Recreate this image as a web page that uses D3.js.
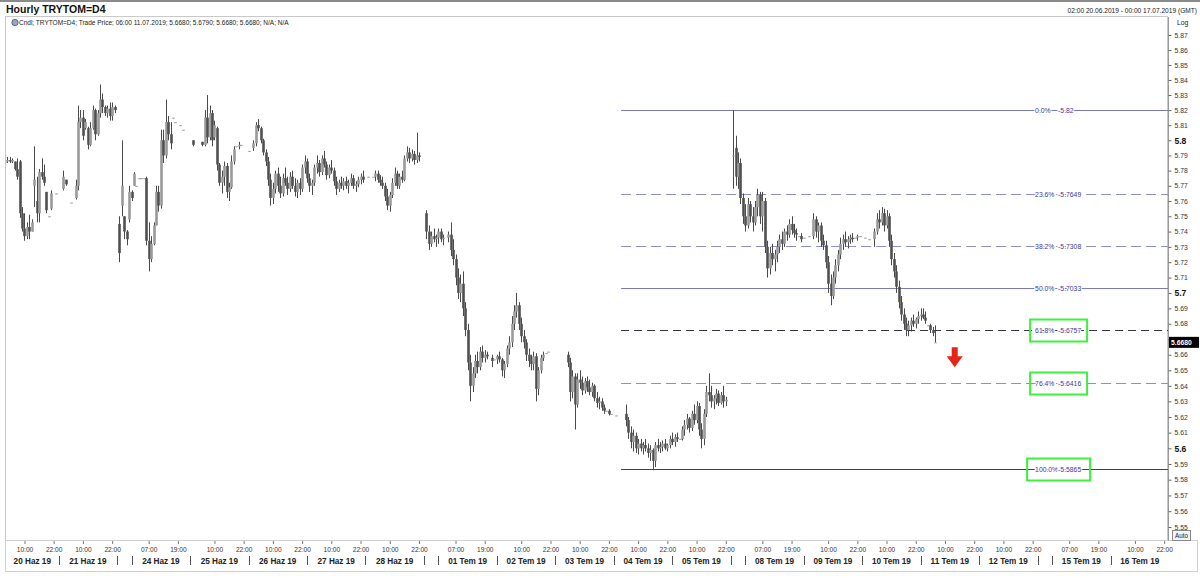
<!DOCTYPE html>
<html><head><meta charset="utf-8">
<script src="https://cdn.jsdelivr.net/npm/d3@7"></script>
<style>
body{margin:0;background:#fff;}
svg{font-family:"Liberation Sans",Arial,sans-serif;display:block;}
</style></head><body>
<svg id="c" width="1200" height="578"></svg>
<script>
// ---------------- texts ----------------
const title = "Hourly TRYTOM=D4";
const infoLine = "Cndl; TRYTOM=D4; Trade Price; 06:00 11.07.2019; 5.6680; 5.6790; 5.6680; 5.6680; N/A; N/A";
const rangeText = "02:00 20.06.2019 - 00:00 17.07.2019 (GMT)";
const scaleModeLabel = "Log";
const autoLabel = "Auto";

// ---------------- calendar / x axis ----------------
const tradingDays = ["2019-06-20","2019-06-21","2019-06-24","2019-06-25","2019-06-26","2019-06-27","2019-06-28",
  "2019-07-01","2019-07-02","2019-07-03","2019-07-04","2019-07-05",
  "2019-07-08","2019-07-09","2019-07-10","2019-07-11","2019-07-12",
  "2019-07-15","2019-07-16"];
const monthAbbr = {"06":"Haz","07":"Tem"};
const tickHoursMonday = [7,19];
const tickHoursOther = [10,22];
const weekendSessionHours = 6;      // Sunday 18:00-24:00 shown before each Monday
const domainStartHour = 2;          // 02:00 20.06.2019

// ---------------- y axis ----------------
const yTickValues = [5.55,5.56,5.57,5.58,5.59,5.6,5.61,5.62,5.63,5.64,5.65,5.66,5.67,5.68,5.69,5.7,
  5.71,5.72,5.73,5.74,5.75,5.76,5.77,5.78,5.79,5.8,5.81,5.82,5.83,5.84,5.85,5.86,5.87];
const yMajorTicks = [5.6,5.7,5.8];
const lastPrice = 5.668;
const lastPriceLabel = "5.6680";

// ---------------- Fibonacci retracement ----------------
const fibLevels = ["0.0%","23.6%","38.2%","50.0%","61.8%","76.4%","100.0%"];
const fibValues = [5.82,5.7649,5.7308,5.7033,5.6757,5.6416,5.5865];
const fibLineKind = ["solid","dash","dash","solid","darkdash","dash","darksolid"];
const fibStart = {day:"2019-07-04", hour:3};
const fibLabelAt = {day:"2019-07-15", hour:0};
const highlightedLevels = ["61.8%","76.4%","100.0%"];
const arrowAt = {day:"2019-07-11", hour:14, price:5.6648};

// ---------------- hourly candles [open, high, low, close]; a single number = flat bar; null = no trade ----------------
const segmentStarts = [{day:"2019-06-20",hour:2},{day:"2019-06-24",hour:-6},{day:"2019-07-01",hour:-6},{day:"2019-07-08",hour:-6}];
const barsWeek1 = [
[5.786,5.788,5.784,5.786],[5.786,5.789,5.785,5.787],[5.787,5.789,5.785,5.786],[5.786,5.788,5.785,5.787],
[5.786,5.786,5.780,5.781],[5.781,5.788,5.774,5.776],[5.786,5.787,5.749,5.752],[5.752,5.756,5.740,5.742],
[5.742,5.752,5.734,5.737],[5.737,5.746,5.735,5.743],[5.743,5.751,5.735,5.740],[5.740,5.748,5.740,5.746],
[5.770,5.796,5.756,5.774],[5.760,5.776,5.746,5.752],[5.752,5.781,5.746,5.779],[5.779,5.788,5.774,5.776],
[5.776,5.784,5.770,5.772],[5.766,5.766,5.752,5.754],5.750,[5.755,5.767,5.754,5.765],
null,5.765,null,null,
[5.768,5.780,5.767,5.776],[5.774,5.774,5.770,5.771],null,5.759,
null,[5.762,5.774,5.761,5.770],[5.770,5.823,5.767,5.812],[5.812,5.820,5.808,5.815],
[5.815,5.820,5.800,5.803],[5.808,5.814,5.807,5.812],[5.808,5.809,5.794,5.797],[5.797,5.812,5.796,5.808],
[5.808,5.823,5.807,5.820],[5.820,5.821,5.800,5.804],[5.804,5.820,5.803,5.818],[5.818,5.837,5.815,5.827],
[5.827,5.831,5.818,5.822],[5.822,5.823,5.816,5.818],[5.818,5.823,5.815,5.821],[5.821,5.825,5.813,5.816],
[5.816,5.825,5.813,5.822],[5.822,5.823,5.818,5.820]
];
const barsWeek2 = [
null,[5.745,5.750,5.720,5.726],[5.757,5.800,5.750,5.770],[5.750,5.750,5.735,5.740],
[5.740,5.741,5.731,5.735],[5.748,5.770,5.746,5.766],[5.766,5.767,5.760,5.762],[5.770,5.779,5.770,5.778],
5.770,5.775,5.775,5.775,
[5.775,5.776,5.731,5.734],[5.734,5.746,5.714,5.722],[5.722,5.737,5.720,5.732],[5.732,5.746,5.731,5.744],
[5.744,5.770,5.744,5.766],[5.766,5.770,5.753,5.757],[5.757,5.807,5.755,5.800],[5.800,5.807,5.785,5.790],
[5.790,5.827,5.788,5.812],[5.812,5.816,5.800,5.804],[5.804,5.812,5.794,5.798],5.815,
5.812,null,5.810,5.807,
null,null,null,[5.800,5.800,5.796,5.797],
null,null,null,[5.799,5.799,5.796,5.797],
[5.797,5.820,5.796,5.815],[5.815,5.830,5.798,5.802],[5.802,5.823,5.800,5.818],[5.818,5.820,5.796,5.800],
[5.802,5.813,5.800,5.810],[5.808,5.809,5.780,5.784],[5.784,5.785,5.770,5.772],[5.772,5.780,5.765,5.776],
[5.776,5.786,5.770,5.783],[5.783,5.785,5.762,5.766],[5.766,5.772,5.760,5.769],[5.769,5.790,5.768,5.786],
[5.786,5.796,5.784,5.794],5.796,[5.796,5.799,5.794,5.797],5.797,
null,null,5.793,null,
[5.795,5.800,5.793,5.798],[5.798,5.812,5.796,5.810],[5.810,5.814,5.806,5.808],[5.808,5.809,5.798,5.800],
[5.800,5.801,5.790,5.792],[5.792,5.794,5.783,5.786],[5.786,5.789,5.770,5.774],[5.774,5.778,5.757,5.762],
[5.762,5.772,5.758,5.768],[5.768,5.780,5.765,5.778],[5.778,5.782,5.766,5.770],[5.770,5.776,5.762,5.765],
[5.765,5.778,5.763,5.775],[5.775,5.782,5.770,5.772],[5.772,5.776,5.764,5.768],[5.768,5.779,5.766,5.776],
[5.776,5.780,5.768,5.770],[5.770,5.775,5.763,5.766],[5.766,5.774,5.762,5.772],[5.772,5.775,5.764,5.768],
[5.768,5.784,5.766,5.782],[5.782,5.790,5.778,5.786],[5.786,5.788,5.772,5.775],[5.775,5.778,5.766,5.770],
[5.770,5.774,5.764,5.772],[5.772,5.784,5.770,5.782],[5.782,5.790,5.778,5.785],[5.785,5.787,5.776,5.779],
[5.779,5.790,5.777,5.788],[5.788,5.793,5.782,5.784],[5.784,5.786,5.774,5.777],[5.777,5.784,5.775,5.782],
[5.782,5.787,5.778,5.780],[5.780,5.782,5.770,5.773],[5.773,5.776,5.764,5.768],[5.768,5.774,5.766,5.772],
[5.772,5.776,5.768,5.770],[5.770,5.775,5.767,5.773],[5.773,5.776,5.768,5.770],[5.770,5.774,5.765,5.772],
[5.772,5.778,5.770,5.775],[5.775,5.777,5.768,5.770],[5.770,5.773,5.766,5.771],[5.771,5.776,5.769,5.774],
[5.774,5.778,5.771,5.776],[5.776,5.780,5.772,5.774],null,5.776,
null,5.776,[5.776,5.780,5.773,5.778],[5.778,5.780,5.772,5.774],
[5.774,5.777,5.770,5.772],[5.772,5.776,5.768,5.770],[5.770,5.772,5.760,5.763],[5.763,5.768,5.754,5.757],
[5.757,5.766,5.753,5.764],[5.764,5.775,5.762,5.772],[5.772,5.782,5.770,5.778],[5.778,5.780,5.768,5.770],
[5.770,5.778,5.768,5.776],[5.776,5.780,5.772,5.774],[5.774,5.790,5.773,5.788],[5.788,5.796,5.786,5.792],
[5.792,5.795,5.785,5.788],[5.788,5.794,5.786,5.791],[5.791,5.793,5.784,5.787],[5.787,5.805,5.785,5.790],
[5.790,5.792,5.786,5.789],null
];
const barsWeek3 = [
null,[5.752,5.754,5.735,5.740],[5.740,5.744,5.728,5.732],[5.732,5.740,5.730,5.737],
[5.737,5.742,5.733,5.735],[5.735,5.738,5.730,5.736],[5.736,5.742,5.732,5.740],[5.740,5.742,5.733,5.735],
[5.735,5.738,5.731,5.736],null,[5.736,5.740,5.733,5.738],[5.738,5.746,5.724,5.728],
[5.728,5.735,5.718,5.722],[5.722,5.725,5.705,5.710],[5.710,5.716,5.696,5.700],[5.700,5.712,5.694,5.706],
[5.706,5.714,5.685,5.690],[5.690,5.694,5.672,5.676],[5.676,5.680,5.650,5.655],[5.655,5.660,5.630,5.640],
[5.640,5.652,5.636,5.648],[5.648,5.660,5.645,5.656],[5.656,5.662,5.648,5.652],[5.652,5.665,5.650,5.662],
[5.662,5.666,5.655,5.658],[5.658,5.663,5.655,5.660],[5.660,5.662,5.657,5.659],null,
[5.658,5.660,5.652,5.656],5.657,[5.657,5.660,5.654,5.659],[5.659,5.662,5.655,5.657],
[5.657,5.658,5.646,5.650],[5.650,5.656,5.645,5.654],[5.654,5.666,5.652,5.664],[5.664,5.672,5.660,5.668],
[5.668,5.685,5.665,5.680],[5.680,5.692,5.676,5.688],[5.688,5.700,5.684,5.692],[5.692,5.694,5.676,5.680],
[5.680,5.684,5.668,5.672],[5.672,5.676,5.664,5.668],[5.668,5.670,5.656,5.660],[5.660,5.664,5.652,5.656],
[5.656,5.660,5.650,5.654],[5.654,5.662,5.650,5.659],[5.659,5.661,5.630,5.638],[5.638,5.652,5.634,5.650],
[5.650,5.660,5.648,5.658],[5.658,5.662,5.656,5.660],5.661,5.662,
null,null,null,null,
null,null,null,[5.660,5.662,5.652,5.655],
[5.655,5.658,5.630,5.636],[5.636,5.650,5.632,5.646],[5.646,5.648,5.612,5.628],[5.628,5.648,5.626,5.644],
[5.644,5.650,5.638,5.642],[5.642,5.646,5.634,5.637],[5.637,5.645,5.635,5.643],[5.643,5.646,5.636,5.639],
[5.639,5.644,5.634,5.636],[5.636,5.642,5.633,5.640],[5.640,5.641,5.630,5.632],[5.632,5.636,5.626,5.629],
[5.629,5.633,5.625,5.630],[5.630,5.632,5.624,5.626],[5.626,5.628,5.622,5.624],5.624,
[5.624,5.625,5.621,5.622],5.622,null,5.621,
null,null,null,[5.622,5.628,5.614,5.618],
[5.618,5.620,5.606,5.610],[5.610,5.614,5.600,5.604],[5.604,5.612,5.598,5.608],[5.608,5.610,5.597,5.600],
[5.600,5.606,5.596,5.603],[5.603,5.606,5.598,5.600],[5.600,5.604,5.596,5.602],[5.602,5.606,5.598,5.600],
[5.600,5.603,5.594,5.597],[5.597,5.602,5.592,5.599],[5.599,5.600,5.586,5.592],[5.592,5.604,5.588,5.602],
[5.602,5.606,5.598,5.600],[5.600,5.604,5.597,5.601],[5.601,5.605,5.598,5.603],[5.603,5.606,5.599,5.600],
[5.600,5.603,5.598,5.602],[5.602,5.608,5.600,5.606],[5.606,5.610,5.602,5.604],[5.604,5.609,5.601,5.607],
[5.607,5.610,5.604,5.606],5.606,[5.606,5.614,5.605,5.612],[5.612,5.618,5.608,5.615],
[5.615,5.622,5.612,5.619],[5.619,5.620,5.610,5.613],[5.613,5.624,5.611,5.622],[5.622,5.628,5.615,5.618],
[5.618,5.630,5.616,5.627],[5.627,5.629,5.608,5.612],[5.612,5.616,5.600,5.606],[5.606,5.625,5.602,5.622],
[5.622,5.640,5.620,5.636],[5.636,5.648,5.630,5.634],[5.634,5.640,5.626,5.630],[5.630,5.634,5.625,5.632],
[5.632,5.638,5.628,5.635],[5.635,5.637,5.627,5.629],[5.629,5.636,5.628,5.634],[5.634,5.640,5.626,5.630],
[5.630,5.633,5.627,5.631],null
];
const barsWeek4 = [
null,[5.790,5.820,5.768,5.790],[5.795,5.803,5.770,5.776],[5.776,5.792,5.768,5.785],
[5.785,5.788,5.758,5.762],[5.762,5.765,5.745,5.750],[5.750,5.758,5.740,5.744],[5.744,5.762,5.742,5.758],
[5.758,5.760,5.746,5.750],[5.750,5.756,5.740,5.746],[5.746,5.760,5.744,5.756],[5.756,5.768,5.750,5.764],
[5.764,5.766,5.745,5.750],[5.750,5.766,5.740,5.760],[5.760,5.762,5.726,5.730],[5.730,5.734,5.710,5.716],
[5.716,5.730,5.712,5.726],[5.726,5.732,5.718,5.722],[5.722,5.728,5.714,5.725],[5.725,5.734,5.720,5.730],
[5.730,5.738,5.726,5.735],[5.735,5.740,5.728,5.732],[5.732,5.742,5.730,5.740],[5.740,5.744,5.734,5.738],
[5.738,5.748,5.736,5.745],[5.745,5.750,5.738,5.741],[5.741,5.745,5.736,5.739],[5.739,5.742,5.734,5.738],
5.737,[5.737,5.739,5.733,5.735],5.736,null,
5.737,null,[5.737,5.752,5.735,5.748],[5.748,5.750,5.736,5.740],
[5.740,5.746,5.733,5.744],[5.744,5.746,5.730,5.734],[5.734,5.738,5.728,5.731],[5.731,5.734,5.716,5.720],
[5.720,5.724,5.700,5.706],[5.706,5.712,5.692,5.698],[5.698,5.714,5.696,5.710],[5.710,5.722,5.706,5.718],
[5.718,5.728,5.714,5.725],[5.725,5.736,5.722,5.732],[5.732,5.738,5.728,5.735],[5.735,5.740,5.730,5.733],
[5.733,5.737,5.729,5.735],[5.735,5.738,5.732,5.736],[5.736,5.739,5.733,5.735],5.736,
[5.736,5.738,5.734,5.737],5.737,null,5.736,
null,5.735,null,[5.735,5.742,5.730,5.740],
[5.740,5.752,5.738,5.748],[5.748,5.754,5.742,5.746],[5.746,5.756,5.744,5.752],[5.752,5.755,5.740,5.744],
[5.744,5.754,5.742,5.750],[5.750,5.752,5.730,5.734],[5.734,5.738,5.718,5.722],[5.722,5.726,5.710,5.714],
[5.714,5.718,5.700,5.704],[5.704,5.708,5.690,5.694],[5.694,5.698,5.682,5.686],[5.686,5.690,5.676,5.680],
[5.680,5.684,5.672,5.676],[5.676,5.682,5.672,5.679],[5.679,5.684,5.675,5.682],[5.682,5.686,5.678,5.680],
[5.680,5.684,5.677,5.683],[5.683,5.688,5.680,5.685],[5.685,5.690,5.682,5.686],[5.686,5.690,5.683,5.684],
[5.684,5.688,5.680,5.682],5.679,[5.679,5.680,5.674,5.676],[5.676,5.678,5.672,5.674],
[5.668,5.679,5.668,5.668]
];

// ---------------- layout ----------------
const W = 1200, H = 578;
const plot = {left:6, right:1168, top:17, bottom:541};
const svg = d3.select("#c");

// compressed trading-time: each trading day = 24 units, weekend = Sunday evening session
const dayStart = {}; let acc = 0;
tradingDays.forEach((d,i)=>{
  if(i>0){ const gap=(new Date(d)-new Date(tradingDays[i-1]))/864e5; if(gap>1) acc+=weekendSessionHours; }
  dayStart[d]=acc; acc+=24;
});
const tEnd = acc;
const tOf = (day,hour)=> dayStart[day]+hour;

const x = d3.scaleLinear().domain([domainStartHour, tEnd]).range([5, 1169]);
const y = d3.scaleLog().domain([5.55, 5.87]).range([527, 35]);

// build bars
const bars = [];
[barsWeek1,barsWeek2,barsWeek3,barsWeek4].forEach((seg,si)=>{
  const t0 = tOf(segmentStarts[si].day, segmentStarts[si].hour);
  seg.forEach((b,k)=>{
    if(b===null) return;
    const v = Array.isArray(b)? b : [b,b,b,b];
    bars.push({t:t0+k, o:v[0], h:v[1], l:v[2], c:v[3]});
  });
});

// ---------------- frame ----------------
svg.append("rect").attr("x",0).attr("y",0).attr("width",W).attr("height",H).attr("fill","#fff");
svg.append("line").attr("x1",0).attr("x2",W).attr("y1",1).attr("y2",1).attr("stroke","#8a8a8a").attr("stroke-width",2);
svg.append("text").attr("x",6).attr("y",13).attr("font-size",10.5).attr("font-weight","bold").attr("fill","#111").text(title);
svg.append("text").attr("x",1197).attr("y",13).attr("text-anchor","end").attr("font-size",6.6).attr("fill","#222").text(rangeText);
// panel
svg.append("rect").attr("x",plot.left-0.5).attr("y",plot.top-0.5).attr("width",plot.right-plot.left).attr("height",plot.bottom-plot.top)
  .attr("fill","none").attr("stroke","#c9c9c9");
// axis area box
svg.append("rect").attr("x",plot.left-0.5).attr("y",plot.bottom-0.5).attr("width",1198-plot.left).attr("height",31)
  .attr("fill","none").attr("stroke","#d0d0d0");
svg.append("line").attr("x1",plot.right+0.5).attr("x2",plot.right+0.5).attr("y1",plot.top).attr("y2",plot.bottom)
  .attr("stroke","#9a9a9a");
// info line with icon
svg.append("circle").attr("cx",15).attr("cy",22.5).attr("r",3.2).attr("fill","#9aa6c0").attr("stroke","#4a5670").attr("stroke-width",0.8);
svg.append("text").attr("x",19).attr("y",25).attr("font-size",6.5).attr("fill","#222").text(infoLine);
svg.append("text").attr("x",1177).attr("y",25).attr("font-size",6.8).attr("fill","#222").text(scaleModeLabel);

// ---------------- clip ----------------
svg.append("clipPath").attr("id","clip").append("rect")
  .attr("x",plot.left).attr("y",plot.top).attr("width",plot.right-plot.left).attr("height",plot.bottom-plot.top);
const g = svg.append("g").attr("clip-path","url(#clip)");

// ---------------- Fibonacci ----------------
const fx0 = x(tOf(fibStart.day, fibStart.hour));
const fibStyle = {
  solid:{stroke:"#7a7ab8", dash:null, w:1},
  dash:{stroke:"#8e8ec8", dash:"10,5", w:1.2},
  darkdash:{stroke:"#333344", dash:"8,5", w:1},
  darksolid:{stroke:"#3a3a8a", dash:null, w:1}
};
fibValues.forEach((v,i)=>{
  const st = fibStyle[fibLineKind[i]];
  g.append("line").attr("x1",fx0).attr("x2",plot.right).attr("y1",Math.round(y(v))+0.5).attr("y2",Math.round(y(v))+0.5)
    .attr("stroke",st.stroke).attr("stroke-width",st.w).attr("stroke-dasharray",st.dash);
});
const lx = x(tOf(fibLabelAt.day, fibLabelAt.hour));
fibValues.forEach((v,i)=>{
  const yy = Math.round(y(v))+0.5;
  const grp = svg.append("g");
  grp.append("text").attr("x",lx-17).attr("y",yy+2.4).attr("font-size",6.8).attr("fill","#3a3a9a")
    .attr("stroke","#fff").attr("stroke-width",2).attr("paint-order","stroke").text(fibLevels[i]);
  grp.append("text").attr("x",lx+6).attr("y",yy+2.4).attr("font-size",6.8).attr("fill","#3a3a9a")
    .attr("stroke","#fff").attr("stroke-width",2).attr("paint-order","stroke").text("-"+String(v));
  if(highlightedLevels.includes(fibLevels[i])){
    const wide = fibLevels[i].length>5 ? 3 : 0;
    svg.append("rect").attr("x",lx-22-wide).attr("y",yy-11).attr("width",57+2*wide).attr("height",22)
      .attr("fill","none").attr("stroke","#3cf03c").attr("stroke-width",2);
  }
});

// ---------------- candles ----------------
const bx = d=> Math.round(x(d.t));
g.selectAll("line.wick").data(bars).join("line").attr("class","wick")
  .attr("x1",d=>bx(d)+0.5).attr("x2",d=>bx(d)+0.5)
  .attr("y1",d=>y(d.h)).attr("y2",d=>y(d.l)).attr("stroke","#4a4a4a").attr("stroke-width",1);
g.selectAll("rect.body").data(bars).join("rect").attr("class","body")
  .attr("x",d=>bx(d)-0.8).attr("width",2.6)
  .attr("y",d=>Math.min(y(d.o),y(d.c)))
  .attr("height",d=>Math.max(1,Math.abs(y(d.o)-y(d.c))))
  .attr("fill",d=> d.c>=d.o ? "#9a9a9a" : "#505050");

// ---------------- arrow ----------------
const ax = x(tOf(arrowAt.day, arrowAt.hour)), ay = y(arrowAt.price);
svg.append("path").attr("fill","#e8231a")
  .attr("d",`M${ax-3},${ay} L${ax+3},${ay} L${ax+3},${ay+9} L${ax+8},${ay+9} L${ax},${ay+20} L${ax-8},${ay+9} L${ax-3},${ay+9} Z`);

// ---------------- y axis ----------------
const isMajor = d=> yMajorTicks.some(m=>Math.abs(m-d)<1e-9);
const yAxis = d3.axisRight(y).tickValues(yTickValues).tickSize(3).tickPadding(3)
  .tickFormat(d=> isMajor(d) ? d3.format(".1f")(d) : d3.format(".2f")(d));
const yg = svg.append("g").attr("transform",`translate(${plot.right+0.5},0)`).call(yAxis);
yg.select(".domain").remove();
yg.selectAll(".tick line").attr("stroke","#666");
yg.selectAll(".tick text").attr("fill","#333").attr("font-size",6.8)
  .attr("font-family","Liberation Sans, Arial, sans-serif");
yg.selectAll(".tick text").filter(isMajor)
  .attr("font-size",8.5).attr("font-weight","bold").attr("fill","#111");

// last price tag (covers the 5.67 label as in the original)
const ly = y(lastPrice);
svg.append("rect").attr("x",plot.right+1).attr("y",ly-5.5).attr("width",30).attr("height",11).attr("fill","#000");
svg.append("text").attr("x",plot.right+3).attr("y",ly+2.5).attr("font-size",6.8).attr("font-weight","bold")
  .attr("fill","#fff").text(lastPriceLabel);

// Auto button
svg.append("rect").attr("x",1172.5).attr("y",530.5).attr("width",18).attr("height",10).attr("fill","#f4f4f4").attr("stroke","#888");
svg.append("text").attr("x",1181.5).attr("y",538).attr("text-anchor","middle").attr("font-size",6.3).attr("fill","#222").text(autoLabel);

// ---------------- x axis ----------------
const hourTicks = [];
tradingDays.forEach(d=>{
  const isMon = new Date(d+"T12:00:00Z").getUTCDay()===1;
  (isMon?tickHoursMonday:tickHoursOther).forEach(h=>{
    hourTicks.push({t:tOf(d,h), label:(h<10?"0":"")+h+":00"});
  });
});
const xAxis = d3.axisBottom(x).tickValues(hourTicks.map(d=>d.t)).tickSize(3).tickPadding(3)
  .tickFormat((d,i)=>hourTicks[i].label);
const xg = svg.append("g").attr("transform",`translate(0,${plot.bottom})`).call(xAxis);
xg.select(".domain").remove();
xg.selectAll(".tick line").attr("stroke","#777");
xg.selectAll(".tick text").attr("fill","#333").attr("font-size",6.6)
  .attr("font-family","Liberation Sans, Arial, sans-serif");

// day labels and separators
tradingDays.forEach((d,i)=>{
  const s = Math.max(x(dayStart[d]), plot.left), e = x(dayStart[d]+24);
  const p = d.split("-");
  svg.append("text").attr("x",(s+e)/2).attr("y",564).attr("text-anchor","middle").attr("font-size",8.2)
    .attr("font-weight","bold").attr("fill","#222").text(`${p[2]} ${monthAbbr[p[1]]} ${p[0].slice(2)}`);
  const seps = [];
  if(i<tradingDays.length-1){
    seps.push(e);
    const nd = tradingDays[i+1];
    if(dayStart[nd]>dayStart[d]+24) seps.push(x(dayStart[nd]));
  }
  seps.forEach(sx=> svg.append("line").attr("x1",Math.round(sx)+0.5).attr("x2",Math.round(sx)+0.5)
    .attr("y1",556).attr("y2",565).attr("stroke","#555").attr("stroke-width",1));
});
</script>
</body></html>
